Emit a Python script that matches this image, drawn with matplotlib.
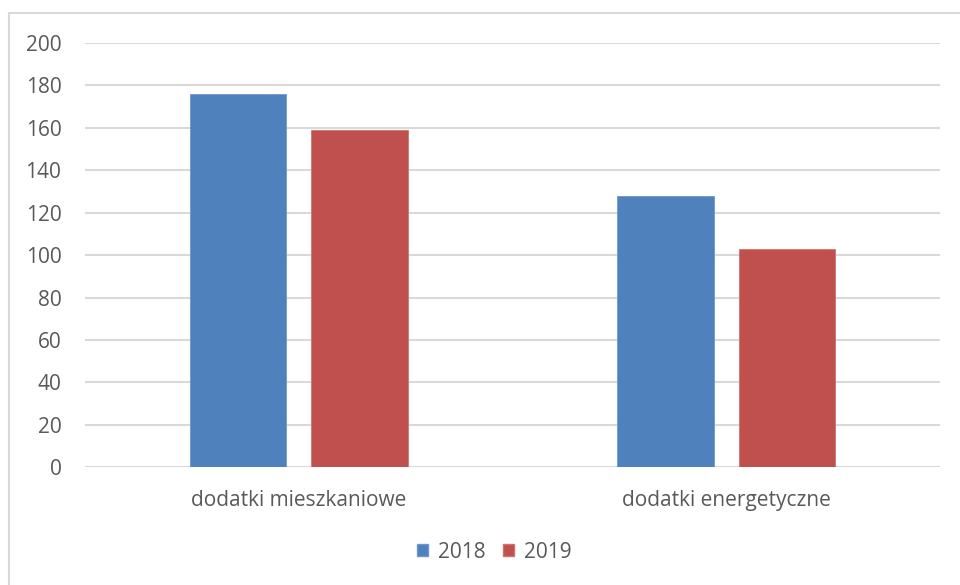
import matplotlib
matplotlib.use("Agg")
import matplotlib.pyplot as plt
from matplotlib.lines import Line2D
from matplotlib.patches import Patch

categories = ["dodatki mieszkaniowe", "dodatki energetyczne"]
series_names = ["2018", "2019"]
values_2018 = [176, 128]
values_2019 = [159, 103]
yticks = [0, 20, 40, 60, 80, 100, 120, 140, 160, 180, 200]

plt.rcParams['font.family'] = ['Open Sans', 'DejaVu Sans']
txt = '#595959'
blue = '#4F81BD'
red = '#C0504D'
fs = 15

fig = plt.figure(figsize=(9.6, 5.85), dpi=100)
ax = fig.add_axes([85/960, 1-467.3/585, (940-85)/960, (467.3-43)/585])

x = list(range(len(categories)))
w = 0.225
off = 0.142
ax.bar([i - off for i in x], values_2018, width=w, color=blue, edgecolor='#6f97c9', linewidth=0.6, zorder=3, label=series_names[0])
ax.bar([i + off for i in x], values_2019, width=w, color=red, edgecolor='#cf7370', linewidth=0.6, zorder=3, label=series_names[1])

ax.set_xlim(-0.5, 1.5)
ax.set_ylim(0, 200)
ax.set_yticks(yticks)
ax.set_yticklabels([str(t) for t in yticks])
ax.set_xticks(x)
ax.set_xticklabels(categories)
ax.grid(axis='y', color='#d9d9d9', linewidth=1.5, zorder=0)
ax.set_axisbelow(True)
for s in ax.spines.values():
    s.set_visible(False)
ax.tick_params(axis='y', length=0, pad=17, labelsize=fs, labelcolor=txt)
ax.tick_params(axis='x', length=0, pad=16, labelsize=fs, labelcolor=txt)

handles = [Patch(facecolor=blue, edgecolor='#6f97c9'), Patch(facecolor=red, edgecolor='#cf7370')]
leg = fig.legend(handles, series_names, loc='center', bbox_to_anchor=(494/960, 1-552/585),
                 ncol=2, frameon=False, fontsize=fs, handlelength=0.55, handleheight=0.55,
                 handletextpad=0.45, columnspacing=0.85)
for t in leg.get_texts():
    t.set_color(txt)

# outer chart border (left and top visible)
fig.add_artist(Line2D([8.5/960, 8.5/960], [0, 1-12.5/585], transform=fig.transFigure, color='#d9d9d9', linewidth=1.5))
fig.add_artist(Line2D([8.5/960, 1], [1-12.5/585, 1-12.5/585], transform=fig.transFigure, color='#d9d9d9', linewidth=1.5))

fig.savefig("out.png", dpi=100)
